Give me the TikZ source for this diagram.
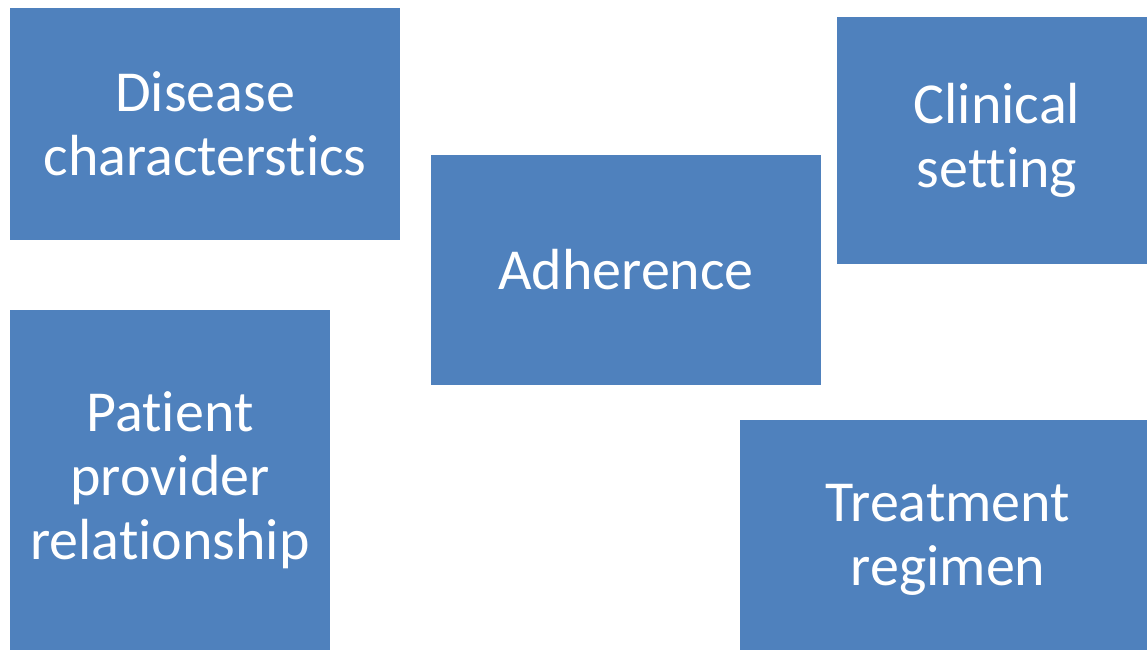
\documentclass[tikz,border=0pt]{standalone}
\usepackage{fontspec}
\setmainfont[Ligatures=NoCommon,RawFeature={-liga;-clig}]{Carlito}
\definecolor{boxblue}{HTML}{4F81BD}
\begin{document}
\begin{tikzpicture}[x=0.5pt,y=-0.5pt,
  box/.style={fill=boxblue,draw=none,inner sep=0pt,outer sep=0pt,text=white,align=center,
    font=\fontsize{29}{32}\selectfont}]
\useasboundingbox (0,0) rectangle (1147,649);
\node[box,minimum width=195pt,minimum height=116pt] (disease) at (205,124) {Disease\\characterstics};
\node[box,minimum width=160pt,minimum height=123.5pt] (clinical) at (997,140) {Clinical\\setting};
\node[box,minimum width=195pt,minimum height=115pt] (adherence) at (626,270) {Adherence};
\node[box,minimum width=160pt,minimum height=170pt] (patient) at (170,480) {Patient\\provider\\relationship};
\node[box,minimum width=208pt,minimum height=120pt] (treatment) at (948,540) {Treatment\\regimen};
\end{tikzpicture}
\end{document}
